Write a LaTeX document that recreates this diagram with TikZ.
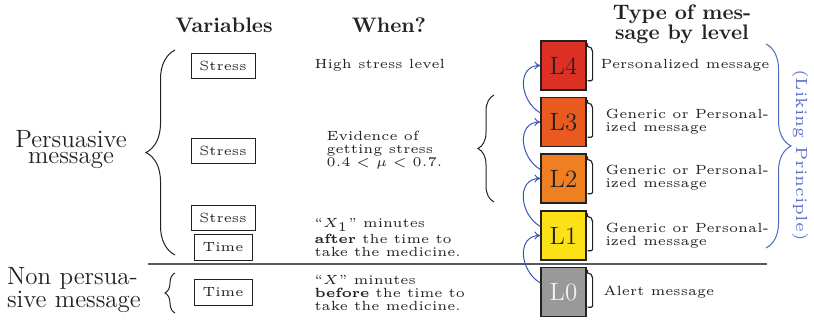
\documentclass[tikz,border=0pt]{standalone}
\usepackage{graphicx}
\usetikzlibrary{decorations.pathreplacing,arrows.meta}
\definecolor{cLfour}{HTML}{DC3124}
\definecolor{cLthree}{HTML}{E95A20}
\definecolor{cLtwo}{HTML}{F07E22}
\definecolor{cLone}{HTML}{FBE116}
\definecolor{cLzero}{HTML}{999999}
\definecolor{arrblue}{HTML}{3A55B5}
\definecolor{braceblue}{HTML}{4D68C0}
\definecolor{txtblue}{HTML}{5C73C7}
\definecolor{ink}{HTML}{222222}
\newcommand\boxtxt[1]{\scalebox{1.33}{\fontsize{5}{6}\selectfont #1}}
\begin{document}
\begin{tikzpicture}[x=0.5pt,y=-0.5pt,
  lev/.style={draw=ink, line width=0.6pt, minimum width=22.5pt, minimum height=24.5pt, inner sep=0pt, text=ink, font=\fontsize{12.5}{14}\selectfont},
  varbox/.style={draw=ink, line width=0.5pt, inner sep=0pt, minimum height=12.5pt, text=ink},
  small/.style={font=\fontsize{5}{4.89}\selectfont, scale=1.33, align=left, anchor=west, inner sep=0pt, text=ink},
  head/.style={font=\fontsize{10.5}{10}\selectfont\bfseries, align=center, inner sep=0pt, text=ink},
  big/.style={font=\fontsize{12.5}{8}\selectfont, align=center, inner sep=0pt, text=ink},
  brc/.style={draw=ink, line width=0.5pt, decorate, decoration={brace, amplitude=#1}},
  barrow/.style={draw=arrblue, line width=0.5pt, -{To[length=3pt,width=4pt]}, out=150, in=180, looseness=1.3},
  hook/.style={draw=ink, line width=0.6pt}
]
\useasboundingbox (0,0) rectangle (814,321);

% headings
\node[head] (hvar) at (224,25) {Variables};
\node[head] (hwhen) at (389,25) {When?};
\node[head] (htype) at (682,24) {Type of mes-\\sage by level};

% level boxes
\node[lev, fill=cLfour] (L4) at (563.5,65.5) {L4};
\node[lev, fill=cLthree] (L3) at (563.5,122) {L3};
\node[lev, fill=cLtwo] (L2) at (563.5,178.5) {L2};
\node[lev, fill=cLone] (L1) at (563.5,235.5) {L1};
\node[lev, fill=cLzero, text=white!90!gray] (L0) at (563.5,292) {L0};

% variable boxes
\node[varbox, minimum width=32pt] (s1) at (223,65.5) {\boxtxt{Stress}};
\node[varbox, minimum width=32pt] (s2) at (223,150.5) {\boxtxt{Stress}};
\node[varbox, minimum width=32pt] (s3) at (223,217.5) {\boxtxt{Stress}};
\node[varbox, minimum width=29pt, minimum height=13pt] (t1) at (223,247) {\boxtxt{Time}};
\node[varbox, minimum width=29pt, minimum height=13pt] (t2) at (223,292) {\boxtxt{Time}};

% when texts
\node[small] (w1) at (314,65) {High stress level};
\node[small] (w2) at (326,150) {Evidence of\\getting stress\\$0.4<\mu<0.7$.};
\node[small] (w3) at (314,237) {``$X_1$'' minutes\\\textbf{after} the time to\\take the medicine.};
\node[small] (w4) at (314,293) {``$X$'' minutes\\\textbf{before} the time to\\take the medicine.};

% message texts
\node[small] (m4) at (600,65) {Personalized message};
\node[small] (m3) at (605,122) {Generic or Personal-\\ized message};
\node[small] (m2) at (605,178) {Generic or Personal-\\ized message};
\node[small] (m1) at (605,236) {Generic or Personal-\\ized message};
\node[small] (m0) at (603,292) {Alert message};

% left labels
\node[big] (pers) at (71,150) {Persuasive\\message};
\node[font=\fontsize{12.5}{10}\selectfont, text width=65.5pt, align=left, inner sep=0pt, text=ink] (nonpers) at (72.5,290) {\makebox[65.5pt][s]{Non persua-}\\\mbox{sive message}};

% braces
\coordinate (bpT) at (175,50);
\coordinate (bpB) at (175,255);
\draw[brc=14.5pt] (bpB) -- (bpT);
\coordinate (bnT) at (175,273);
\coordinate (bnB) at (175,313);
\draw[brc=5pt] (bnB) -- (bnT);
\coordinate (bmT) at (494,95);
\coordinate (bmB) at (494,202);
\draw[brc=8pt] (bmB) -- (bmT);
\coordinate (brT) at (766,44);
\coordinate (brB) at (766,248);
\draw[brc=12.5pt, draw=braceblue] (brT) -- (brB);
\node[rotate=-90, scale=1.6, font=\fontsize{5}{6}\selectfont, text=txtblue, inner sep=0pt] (liking) at (800,155) {(Liking Principle)};

% separator line
\coordinate (sepL) at (148,264);
\coordinate (sepR) at (767,264);
\draw[line width=0.7pt, draw=black!65] (sepL) -- (sepR);

% hooks on the right of the level boxes
\foreach \n in {L4,L3,L2,L1,L0}{
  \draw[hook] ([xshift=0.5pt,yshift=-1.5pt]\n.north east) -- ([xshift=0.5pt,yshift=-3pt]\n.north east)
    to[out=0,in=90] ([xshift=3pt,yshift=-5.5pt]\n.north east)
    -- ([xshift=3pt,yshift=5.5pt]\n.south east)
    to[out=-90,in=0] ([xshift=0.5pt,yshift=5pt]\n.south east);
}

% blue arrows between levels
\draw[barrow] ([yshift=4.5pt]L0.west) to (L1.west);
\draw[barrow] ([yshift=4.5pt]L1.west) to (L2.west);
\draw[barrow] ([yshift=4.5pt]L2.west) to (L3.west);
\draw[barrow] ([yshift=4.5pt]L3.west) to (L4.west);
\end{tikzpicture}
\end{document}
